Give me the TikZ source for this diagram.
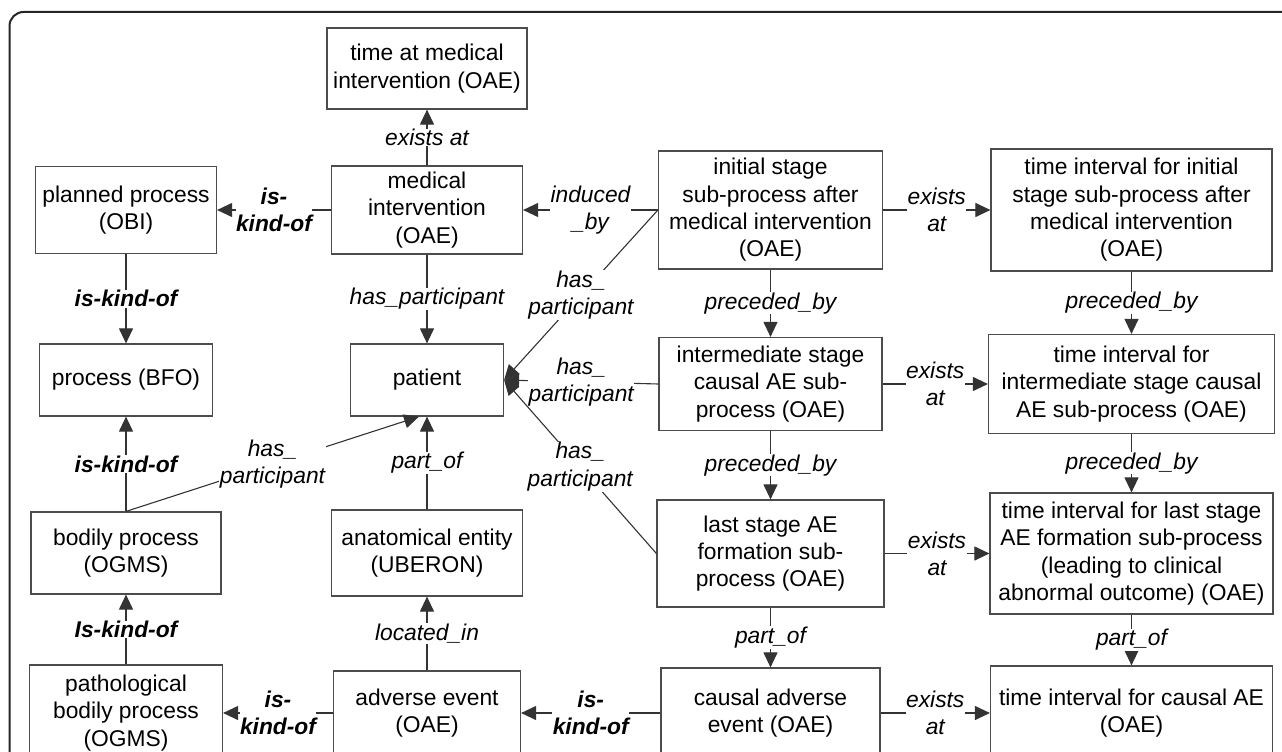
\documentclass[tikz,border=0pt]{standalone}
\usepackage{fontspec}
\setmainfont{Liberation Sans}
\usetikzlibrary{arrows.meta}
\tikzset{
  box/.style={draw=black!70, line width=1.2pt, align=center, inner sep=2pt},
  rel/.style={draw=black!80, line width=1.1pt, -{Triangle[length=15pt,width=14pt]}},
  lbl/.style={fill=white, font=\itshape, align=center, inner sep=0.5pt},
  kind/.style={lbl, font=\bfseries\itshape},
}
\begin{document}
\fontsize{22.8}{27.3}\selectfont
\begin{tikzpicture}[x=1pt, y=-1pt]
  \useasboundingbox (0,0) rectangle (1282,752);
  \clip (0,0) rectangle (1282,752);
  \draw[black!85, line width=2pt, rounded corners=14pt] (9.5,12) rectangle (1300,775);

  \node[box, minimum width=200pt, minimum height=81pt] (timemed) at (427,68.5) {time at medical\\intervention (OAE)};
  \node[box, minimum width=181pt, minimum height=87pt] (planned) at (126,210) {planned process\\(OBI)};
  \node[box, minimum width=191pt, minimum height=88pt] (medint) at (427,210) {medical\\intervention\\(OAE)};
  \node[box, minimum width=224pt, minimum height=118pt] (initial) at (770.5,210) {initial stage\\sub-process after\\medical intervention\\(OAE)};
  \node[box, minimum width=281pt, minimum height=122pt] (tinit) at (1131.5,210) {time interval for initial\\stage sub-process after\\medical intervention\\(OAE)};

  \node[box, minimum width=173pt, minimum height=72pt] (process) at (126,380) {process (BFO)};
  \node[box, minimum width=153pt, minimum height=72pt] (patient) at (427,380) {patient};
  \node[box, minimum width=223pt, minimum height=93pt] (inter) at (770.5,384) {intermediate stage\\causal AE sub-\\process (OAE)};
  \node[box, minimum width=286pt, minimum height=99pt] (tinter) at (1131.5,384) {time interval for\\intermediate stage causal\\AE sub-process (OAE)};

  \node[box, minimum width=190pt, minimum height=82pt] (bodily) at (126,553) {bodily process\\(OGMS)};
  \node[box, minimum width=191pt, minimum height=86pt] (anat) at (427,553) {anatomical entity\\(UBERON)};
  \node[box, minimum width=227pt, minimum height=107pt] (last) at (770.5,553.5) {last stage AE\\formation sub-\\process (OAE)};
  \node[box, minimum width=283pt, minimum height=121pt] (tlast) at (1131.5,553.5) {time interval for last stage\\AE formation sub-process\\(leading to clinical\\abnormal outcome) (OAE)};

  \node[box, minimum width=193pt, minimum height=96pt] (patho) at (126,713) {pathological\\bodily process\\(OGMS)};
  \node[box, minimum width=187pt, minimum height=84pt] (adverse) at (427,713) {adverse event\\(OAE)};
  \node[box, minimum width=219pt, minimum height=90pt] (causal) at (770.5,713) {causal adverse\\event (OAE)};
  \node[box, minimum width=282pt, minimum height=94pt] (tcausal) at (1131.5,713) {time interval for causal AE\\(OAE)};

  \draw[rel] (medint) -- node[lbl] {exists at} (timemed);
  \draw[rel] (medint) -- node[kind] {is-\\kind-of} (planned);
  \draw[rel] (initial) -- node[lbl] {induced\\\_by} (medint);
  \draw[rel] (medint) -- node[lbl] {has\_participant} (patient);
  \draw[rel] (planned) -- node[kind] {is-kind-of} (process);
  \draw[rel] (initial.west) -- node[lbl] {has\_\\participant} (patient.east);
  \draw[rel] (inter.west) -- node[lbl] {has\_\\participant} (patient.east);
  \draw[rel] (last.west) -- node[lbl] {has\_\\participant} (patient.east);
  \draw[rel] (bodily.north) -- node[lbl] {has\_\\participant} ([xshift=-8pt]patient.south);
  \draw[rel] (anat) -- node[lbl] {part\_of} (patient);
  \draw[rel] (bodily) -- node[kind] {is-kind-of} (process);
  \draw[rel] (patho) -- node[kind] {Is-kind-of} (bodily);
  \draw[rel] (adverse) -- node[lbl] {located\_in} (anat);
  \draw[rel] (adverse) -- node[kind] {is-\\kind-of} (patho);
  \draw[rel] (causal) -- node[kind] {is-\\kind-of} (adverse);

  \draw[rel] (initial) -- node[lbl] {exists\\at} (tinit);
  \draw[rel] (inter) -- node[lbl] {exists\\at} (tinter);
  \draw[rel] (last) -- node[lbl] {exists\\at} (tlast);
  \draw[rel] (causal) -- node[lbl] {exists\\at} (tcausal);
  \draw[rel] (initial) -- node[lbl] {preceded\_by} (inter);
  \draw[rel] (tinit) -- node[lbl] {preceded\_by} (tinter);
  \draw[rel] (inter) -- node[lbl] {preceded\_by} (last);
  \draw[rel] (tinter) -- node[lbl] {preceded\_by} (tlast);
  \draw[rel] (last) -- node[lbl] {part\_of} (causal);
  \draw[rel] (tlast) -- node[lbl] {part\_of} (tcausal);
\end{tikzpicture}
\end{document}
